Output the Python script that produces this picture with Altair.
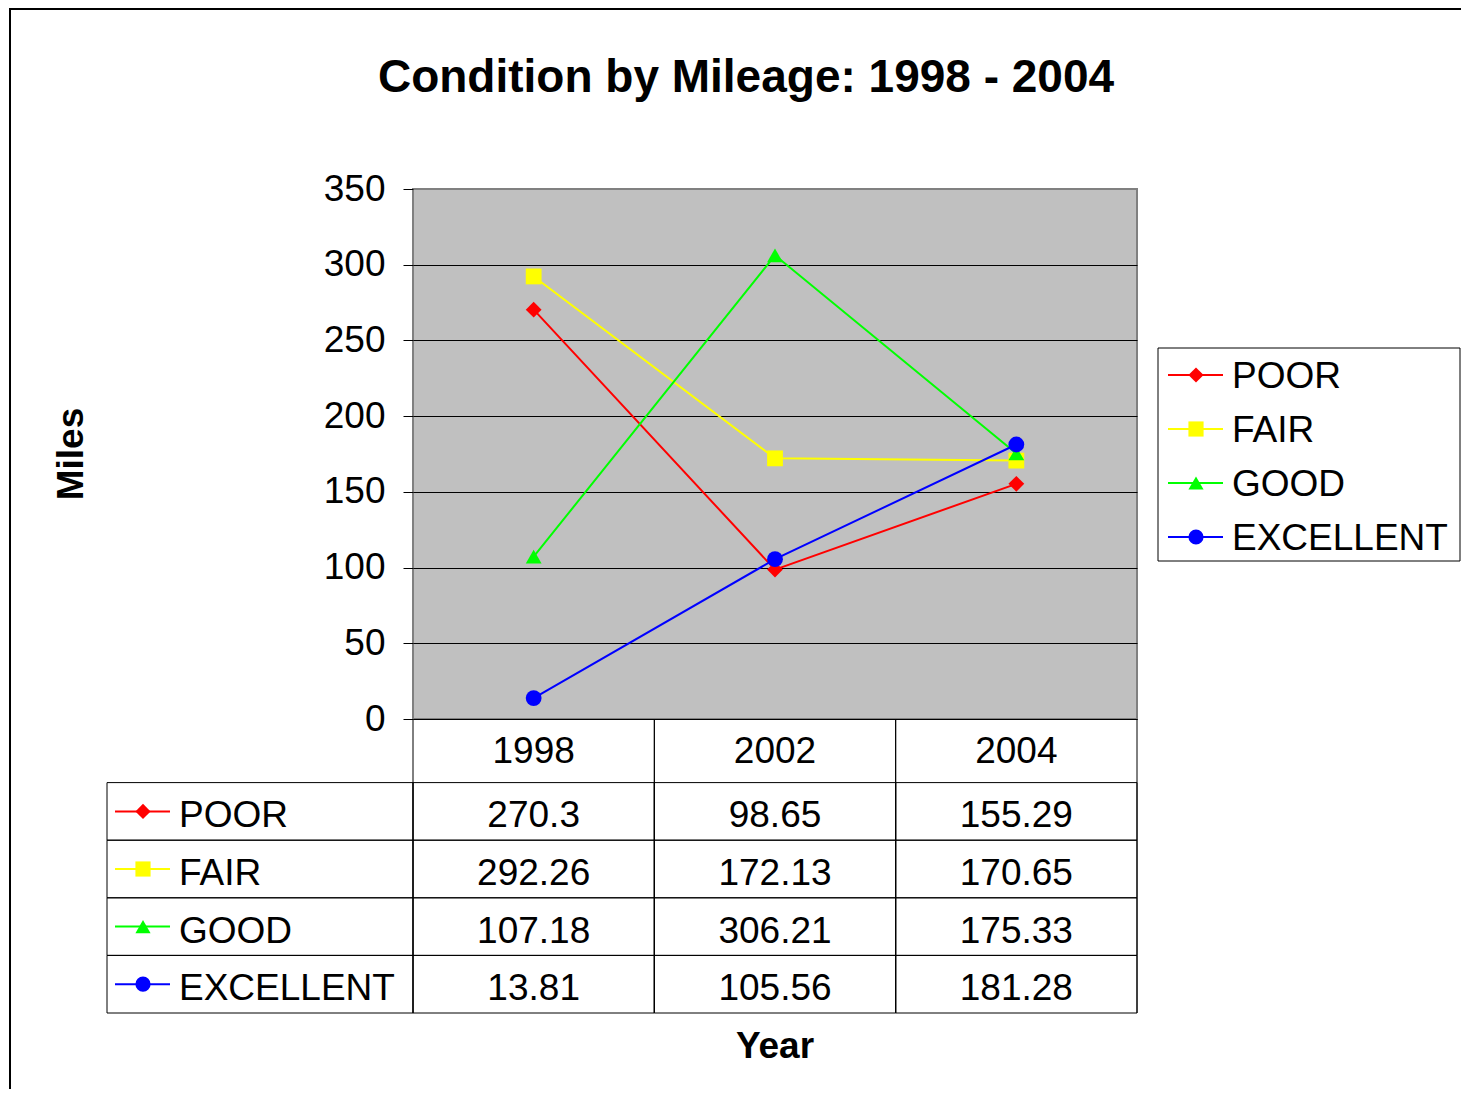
import altair as alt
import pandas as pd

# ---- data ----
series = ["POOR", "FAIR", "GOOD", "EXCELLENT"]
years = [1998, 2002, 2004]
poor = [270.3, 98.65, 155.29]
fair = [292.26, 172.13, 170.65]
good = [107.18, 306.21, 175.33]
excellent = [13.81, 105.56, 181.28]
y_ticks = [0, 50, 100, 150, 200, 250, 300, 350]
colors = ["#FF0000", "#FFFF00", "#00FF00", "#0000FF"]
shapes = ["diamond", "square", "triangle-up", "circle"]
title_text = "Condition by Mileage: 1998 - 2004"
y_title = "Miles"
x_title = "Year"

FONT = "Liberation Sans"
W, H = 724, 530

vals = {"POOR": poor, "FAIR": fair, "GOOD": good, "EXCELLENT": excellent}
long = pd.DataFrame(
    [{"series": s, "year": y, "value": v, "label": str(v)}
     for s in series for y, v in zip(years, vals[s])]
)
ser_df = pd.DataFrame({"series": series})
yr_df = pd.DataFrame({"year": years, "label": [str(y) for y in years], "row": "hdr"})
one = pd.DataFrame({"k": [0]})

color = alt.Color("series:N", scale=alt.Scale(domain=series, range=colors), legend=None)
shape = alt.Shape("series:N", scale=alt.Scale(domain=series, range=shapes), legend=None)

xpt = alt.Scale(type="point", domain=years, padding=0.5)
xband = alt.Scale(type="band", domain=years, paddingInner=0, paddingOuter=0)
rowscale = alt.Scale(type="band", domain=["hdr"] + series, range=[536, 824],
                     paddingInner=0, paddingOuter=0)
legscale = alt.Scale(type="point", domain=series, range=[186, 348], padding=0)

yaxis = alt.Axis(
    values=y_ticks, title=None, grid=True,
    gridColor={"condition": {"test": "datum.value === 350", "value": "#808080"}, "value": "black"},
    gridWidth=1, domain=False, ticks=True, tickSize=10, tickColor="black", tickWidth=1,
    labelFont=FONT, labelFontSize=37, labelColor="black", labelPadding=18,
)

lines = alt.Chart(long).mark_line(strokeWidth=2).encode(
    x=alt.X("year:O", scale=xpt, axis=None),
    y=alt.Y("value:Q", scale=alt.Scale(domain=[0, 350]), axis=yaxis),
    color=color,
)
points = alt.Chart(long).mark_point(filled=True, opacity=1, size=250).encode(
    x=alt.X("year:O", scale=xpt, axis=None),
    y=alt.Y("value:Q", scale=alt.Scale(domain=[0, 350]), axis=None),
    color=color, shape=shape,
)

# ---- data table ----
vrule0 = alt.Chart(yr_df).mark_rule(color="black", strokeWidth=1).encode(
    x=alt.X("year:O", scale=xband, axis=None, bandPosition=0),
    y=alt.value(530), y2=alt.value(824),
)
vrule1 = alt.Chart(yr_df).mark_rule(color="black", strokeWidth=1).encode(
    x=alt.X("year:O", scale=xband, axis=None, bandPosition=1),
    y=alt.value(530), y2=alt.value(824),
)
cells = alt.Chart(long).mark_rect(fillOpacity=0, stroke="black", strokeWidth=1).encode(
    x=alt.X("year:O", scale=xband, axis=None),
    y=alt.Y("series:N", scale=rowscale, axis=None),
)
labcells = alt.Chart(ser_df).mark_rect(fillOpacity=0, stroke="black", strokeWidth=1).encode(
    x=alt.value(-306), x2=alt.value(0),
    y=alt.Y("series:N", scale=rowscale, axis=None),
)
hdr_text = alt.Chart(yr_df).mark_text(font=FONT, fontSize=37, color="black", baseline="middle", dy=-2).encode(
    x=alt.X("year:O", scale=xband, axis=None, bandPosition=0.5),
    y=alt.Y("row:N", scale=rowscale, axis=None, bandPosition=0.5),
    text="label:N",
)
val_text = alt.Chart(long).mark_text(font=FONT, fontSize=37, color="black", baseline="middle", dy=5).encode(
    x=alt.X("year:O", scale=xband, axis=None, bandPosition=0.5),
    y=alt.Y("series:N", scale=rowscale, axis=None, bandPosition=0.5),
    text="label:N",
)
lab_text = alt.Chart(ser_df).mark_text(font=FONT, fontSize=37, color="black", baseline="middle", align="left", dy=5).encode(
    x=alt.value(-234),
    y=alt.Y("series:N", scale=rowscale, axis=None, bandPosition=0.5),
    text="series:N",
)
lab_line = alt.Chart(ser_df).mark_rule(strokeWidth=2).encode(
    x=alt.value(-298), x2=alt.value(-243),
    y=alt.Y("series:N", scale=rowscale, axis=None, bandPosition=0.5),
    color=color,
)
lab_pt = alt.Chart(ser_df).mark_point(filled=True, opacity=1, size=230).encode(
    x=alt.value(-270),
    y=alt.Y("series:N", scale=rowscale, axis=None, bandPosition=0.5),
    color=color, shape=shape,
)

# ---- right legend ----
leg_box = alt.Chart(one).mark_rect(fill="white", stroke="black", strokeWidth=1).encode(
    x=alt.value(745), x2=alt.value(1047), y=alt.value(159), y2=alt.value(372),
)
leg_line = alt.Chart(ser_df).mark_rule(strokeWidth=2).encode(
    x=alt.value(755), x2=alt.value(810),
    y=alt.Y("series:N", scale=legscale, axis=None),
    color=color,
)
leg_pt = alt.Chart(ser_df).mark_point(filled=True, opacity=1, size=230).encode(
    x=alt.value(783),
    y=alt.Y("series:N", scale=legscale, axis=None),
    color=color, shape=shape,
)
leg_text = alt.Chart(ser_df).mark_text(font=FONT, fontSize=37, color="black", baseline="middle", align="left", dy=2).encode(
    x=alt.value(819),
    y=alt.Y("series:N", scale=legscale, axis=None),
    text="series:N",
)

# ---- titles and frame ----
title = alt.Chart(one).mark_text(text=title_text, font=FONT, fontSize=46, fontWeight="bold",
                                 color="black", baseline="middle").encode(
    x=alt.value(333), y=alt.value(-111))
ytitle = alt.Chart(one).mark_text(text=y_title, font=FONT, fontSize=37, fontWeight="bold",
                                  color="black", baseline="middle", angle=270).encode(
    x=alt.value(-341), y=alt.value(265))
xtitle = alt.Chart(one).mark_text(text=x_title, font=FONT, fontSize=37, fontWeight="bold",
                                  color="black", baseline="middle").encode(
    x=alt.value(362), y=alt.value(858))
frame_top = alt.Chart(one).mark_rule(color="black", strokeWidth=2).encode(
    x=alt.value(-403), x2=alt.value(1060), y=alt.value(-180))
frame_left = alt.Chart(one).mark_rule(color="black", strokeWidth=2).encode(
    x=alt.value(-403), y=alt.value(-181), y2=alt.value(930))

chart = alt.layer(
    frame_top, frame_left, title, ytitle, xtitle,
    lines, points,
    cells, labcells, vrule0, vrule1, hdr_text, val_text, lab_text, lab_line, lab_pt,
    leg_box, leg_line, leg_pt, leg_text,
).resolve_scale(
    x="independent", y="independent"
).properties(
    width=W, height=H,
    autosize=alt.AutoSizeParams(type="none"),
    padding={"left": 405, "top": 181, "right": 324, "bottom": 370},
    background="white",
).configure_view(
    fill="#C0C0C0", stroke="#808080", strokeWidth=2
)

chart.save("out.html", embed_options={"renderer": "svg", "actions": False})
